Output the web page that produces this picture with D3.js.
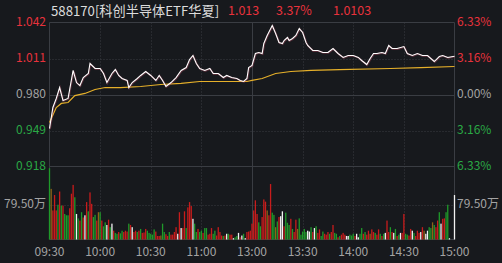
<!DOCTYPE html>
<html>
<head>
<meta charset="utf-8">
<script src="https://cdn.jsdelivr.net/npm/d3@7/dist/d3.min.js"></script>
<style>
  html, body { margin: 0; padding: 0; background: #17191d; }
  svg { display: block; }
  text { font-family: "Noto Sans CJK SC", "Noto Sans", sans-serif; }
</style>
</head>
<body>
<svg width="502" height="263"></svg>
<script>
// header
const title = "588170[科创半导体ETF华夏]";
const headerVals = ["1.013", "3.37%", "1.0103"];

// axes
const prevClose = 0.980;
const priceTicks = [1.042, 1.011, 0.980, 0.949, 0.918];
const pctTicks = ["6.33%", "3.16%", "0.00%", "3.16%", "6.33%"];
const volTick = 79.5;
const timeLabels = ["09:30", "10:00", "10:30", "11:00", "13:00", "13:30", "14:00", "14:30", "15:00"];
const timeTickMin = [0, 30, 60, 90, 120, 150, 180, 210, 240];

// price line (minute index, price)
const priceMin = [0,2,4,6,8,11,14,16,18,20,
  23,24,27,30,32,34,37,39,41,43,
  46,47,49,52,54,57,60,63,65,67,
  69,72,75,78,81,83,85,87,89,92,
  95,97,100,103,105,108,111,113,115,117,
  118,120,122,124,126,127,129,132,134,136,
  138,139,141,142,144,146,148,150,152,153,
  156,159,162,165,168,171,174,177,180,183,
  185,188,190,192,194,197,199,201,203,206,
  210,212,215,218,221,224,228,231,233,236,
  240];
const priceVal = [0.9507,0.9688,0.9766,0.9860,0.9748,0.9766,1.0007,0.9903,0.9877,0.9946,
  0.9981,1.0067,1.0024,1.0024,0.9981,0.9903,0.9981,1.0015,0.9964,0.9938,
  0.9921,0.9860,0.9903,0.9938,0.9964,0.9998,0.9964,0.9921,0.9964,0.9921,
  0.9869,0.9903,0.9946,1.0007,1.0032,1.0101,1.0136,1.0067,1.0024,1.0007,
  1.0024,0.9981,0.9981,0.9946,0.9964,0.9946,0.9938,0.9921,0.9912,0.9938,
  1.0032,1.0050,1.0153,1.0162,1.0153,1.0239,1.0308,1.0394,1.0325,1.0248,
  1.0239,1.0265,1.0291,1.0265,1.0282,1.0308,1.0368,1.0334,1.0248,1.0222,
  1.0179,1.0179,1.0162,1.0162,1.0196,1.0153,1.0119,1.0136,1.0136,1.0119,
  1.0093,1.0058,1.0110,1.0153,1.0153,1.0162,1.0153,1.0222,1.0196,1.0196,
  1.0213,1.0153,1.0136,1.0153,1.0136,1.0136,1.0084,1.0127,1.0136,1.0119,
  1.0130];

// average price line
const avgMin = [0,4,7,11,15,21,27,33,42,54,66,78,89,101,117,120,126,134,143,155,172,202,220,240];
const avgVal = [0.9559,0.9688,0.9723,0.9731,0.9791,0.9809,0.9843,0.9860,0.9860,0.9869,0.9886,0.9895,
  0.9912,0.9912,0.9912,0.9921,0.9938,0.9981,0.9998,1.0007,1.0015,1.0024,1.0032,1.0041];

// volume per minute (万), 241 minutes
const volume = [
  162,115,66,101,66,79,109,77,77,58, 55,55,71,104,124,96,58,48,43,62,
  50,55,85,64,107,81,51,56,43,62, 62,43,30,39,33,45,28,36,20,15,
  13,17,14,20,17,20,18,36,33,28, 17,20,17,20,24,15,16,24,20,
  15,13,11,23,18,8,8,9,36,17, 12,8,17,11,11,17,28,13,62,26,
  26,64,26,73,85,76,47,36,17,24, 17,20,15,26,26,11,13,26,13,20,
  9,28,17,9,8,9,13,13,11,11, 3,5,8,15,5,9,13,3,17,18, 20,
  36,66,89,58,39,30,51,91,86,66, 55,126,61,56,28,41,51,53,64,30,
  61,38,33,47,24,17,45,24,48,11, 18,24,17,20,18,28,17,26,30,15,
  23,8,18,13,11,17,13,17,33,15, 13,5,8,11,15,11,8,8,11,9,
  13,8,13,5,13,26,13,17,11,20, 13,23,17,15,11,23,13,8,13,15,
  43,17,28,17,15,24,8,11,15,15, 58,13,11,9,24,20,15,8,20,15,
  17,28,20,13,20,28,26,39,33,28, 43,62,36,47,48,62,79,3,0,0, 101];
// bar colour: r up, g down, w flat, o mixed
const volDir = (
  "gorrrgrgrg" + "ggrrrgwgrg" + "rwrgrrggro" + "grggwrgwrg" + "grggrrrgrw" + "rrgrgrrrg" +
  "ggggrrrogg" + "rrgrrrrwrw" + "rrgrrrwggr" + "ggrggrrrgg" + "rrrrgrwgrr" + "wggwrwgwrr" + "r" +
  "rrrrggrrro" + "rrggogrwwr" + "gggrgrrogg" + "gggwwgrwgr" + "rggrrrgrrg" + "grgrrrwwgg" +
  "grwwggrgrr" + "orrgrrgrgw" + "rrgrwgrgwr" + "rggrrwgrrr" + "wrowwggogr" + "rgwrrggwwww"
).split("");

const plotL = 49.5, plotR = 454.5, plotT = 22.5, priceB = 166.5, volB = 239.5;

const svg = d3.select("svg");

const x = d3.scaleLinear().domain([0, 240]).range([plotL, plotR]);
const y = d3.scaleLinear().domain([0.918, 1.042]).range([priceB, plotT]);
const yv = d3.scaleLinear().domain([0, volTick]).range([volB, 204.5]);

const gridCol = "#3a3d43";
const red = "#e8323c", green = "#2aa845", grey = "#a3a3a3";

// grid
const grid = svg.append("g");
// dotted horizontals
[1.011, 0.949].forEach(v => {
  grid.append("line").attr("x1", plotL).attr("x2", plotR)
    .attr("y1", Math.round(y(v)) + 0.5).attr("y2", Math.round(y(v)) + 0.5)
    .attr("stroke", gridCol).attr("stroke-dasharray", "1,2");
});
grid.append("line").attr("x1", plotL).attr("x2", plotR)
  .attr("y1", Math.round(yv(volTick)) + 0.5).attr("y2", Math.round(yv(volTick)) + 0.5)
  .attr("stroke", gridCol).attr("stroke-dasharray", "1,2");
// dotted verticals
[30, 60, 90, 150, 180, 210].forEach(m => {
  grid.append("line").attr("x1", Math.round(x(m)) + 0.5).attr("x2", Math.round(x(m)) + 0.5)
    .attr("y1", plotT).attr("y2", volB)
    .attr("stroke", gridCol).attr("stroke-dasharray", "1,2");
});
// solid lines
[plotT, Math.round(y(prevClose)) + 0.5, priceB, volB].forEach(yy => {
  grid.append("line").attr("x1", plotL).attr("x2", plotR).attr("y1", yy).attr("y2", yy)
    .attr("stroke", gridCol);
});
[plotL, plotR, Math.round(x(120)) + 0.5].forEach(xx => {
  grid.append("line").attr("x1", xx).attr("x2", xx).attr("y1", plotT).attr("y2", volB)
    .attr("stroke", gridCol);
});

// volume bars
const barCol = { r: "#c81c1c", g: "#1f9a2a", w: "#f2f2f2", o: "#8c6418" };
svg.append("g").selectAll("rect")
  .data(volume)
  .enter()
  .append("rect")
  .attr("x", (d, i) => x(i) - 0.65)
  .attr("width", 1.3)
  .attr("y", d => yv(d))
  .attr("height", d => yv(0) - yv(d))
  .attr("fill", (d, i) => barCol[volDir[i]]);

// average line
const avgData = avgMin.map((m, i) => [m, avgVal[i]]);
svg.append("path")
  .datum(avgData)
  .attr("fill", "none")
  .attr("stroke", "#e6b02a")
  .attr("stroke-width", 1.2)
  .attr("d", d3.line().x(d => x(d[0])).y(d => y(d[1])));

// price line
const priceData = priceMin.map((m, i) => [m, priceVal[i]]);
const line = d3.line().x(d => x(d[0])).y(d => y(d[1]));
svg.append("path").datum(priceData)
  .attr("fill", "none").attr("stroke", "#c8506a").attr("stroke-width", 1.8).attr("opacity", 0.35)
  .attr("transform", "translate(0.5,0.5)")
  .attr("d", line);
svg.append("path").datum(priceData)
  .attr("fill", "none").attr("stroke", "#ffffff").attr("stroke-width", 1.1)
  .attr("d", line);

// left price labels
const tickCol = (i) => i < 2 ? red : (i === 2 ? grey : green);
svg.append("g").selectAll("text")
  .data(priceTicks)
  .enter()
  .append("text")
  .attr("x", 46)
  .attr("y", d => y(d))
  .attr("text-anchor", "end")
  .attr("dominant-baseline", "middle")
  .attr("font-size", 12)
  .attr("fill", (d, i) => tickCol(i))
  .text(d => d.toFixed(3));

// right percent labels
svg.append("g").selectAll("text")
  .data(pctTicks)
  .enter()
  .append("text")
  .attr("x", 457)
  .attr("y", (d, i) => y(priceTicks[i]))
  .attr("dominant-baseline", "middle")
  .attr("font-size", 12)
  .attr("fill", (d, i) => tickCol(i))
  .text(d => d);

// volume labels
svg.append("text").attr("x", 46).attr("y", yv(volTick)).attr("text-anchor", "end")
  .attr("dominant-baseline", "middle").attr("font-size", 12).attr("fill", grey)
  .text(volTick.toFixed(2) + "万");
svg.append("text").attr("x", 457).attr("y", yv(volTick))
  .attr("dominant-baseline", "middle").attr("font-size", 12).attr("fill", grey)
  .text(volTick.toFixed(2) + "万");

// time axis
svg.append("g").selectAll("text")
  .data(timeLabels)
  .enter()
  .append("text")
  .attr("x", (d, i) => x(timeTickMin[i]))
  .attr("y", 253)
  .attr("text-anchor", "middle")
  .attr("dominant-baseline", "middle")
  .attr("font-size", 12)
  .attr("fill", grey)
  .text(d => d);

// header
svg.append("text").attr("x", 51).attr("y", 12).attr("dominant-baseline", "middle")
  .attr("font-size", 13.2).attr("fill", "#dcdcdc").text(title);
const hx = [228, 276, 333];
headerVals.forEach((t, i) => {
  svg.append("text").attr("x", hx[i]).attr("y", 12).attr("dominant-baseline", "middle")
    .attr("font-size", 12.5).attr("fill", red).text(t);
});
</script>
</body>
</html>
